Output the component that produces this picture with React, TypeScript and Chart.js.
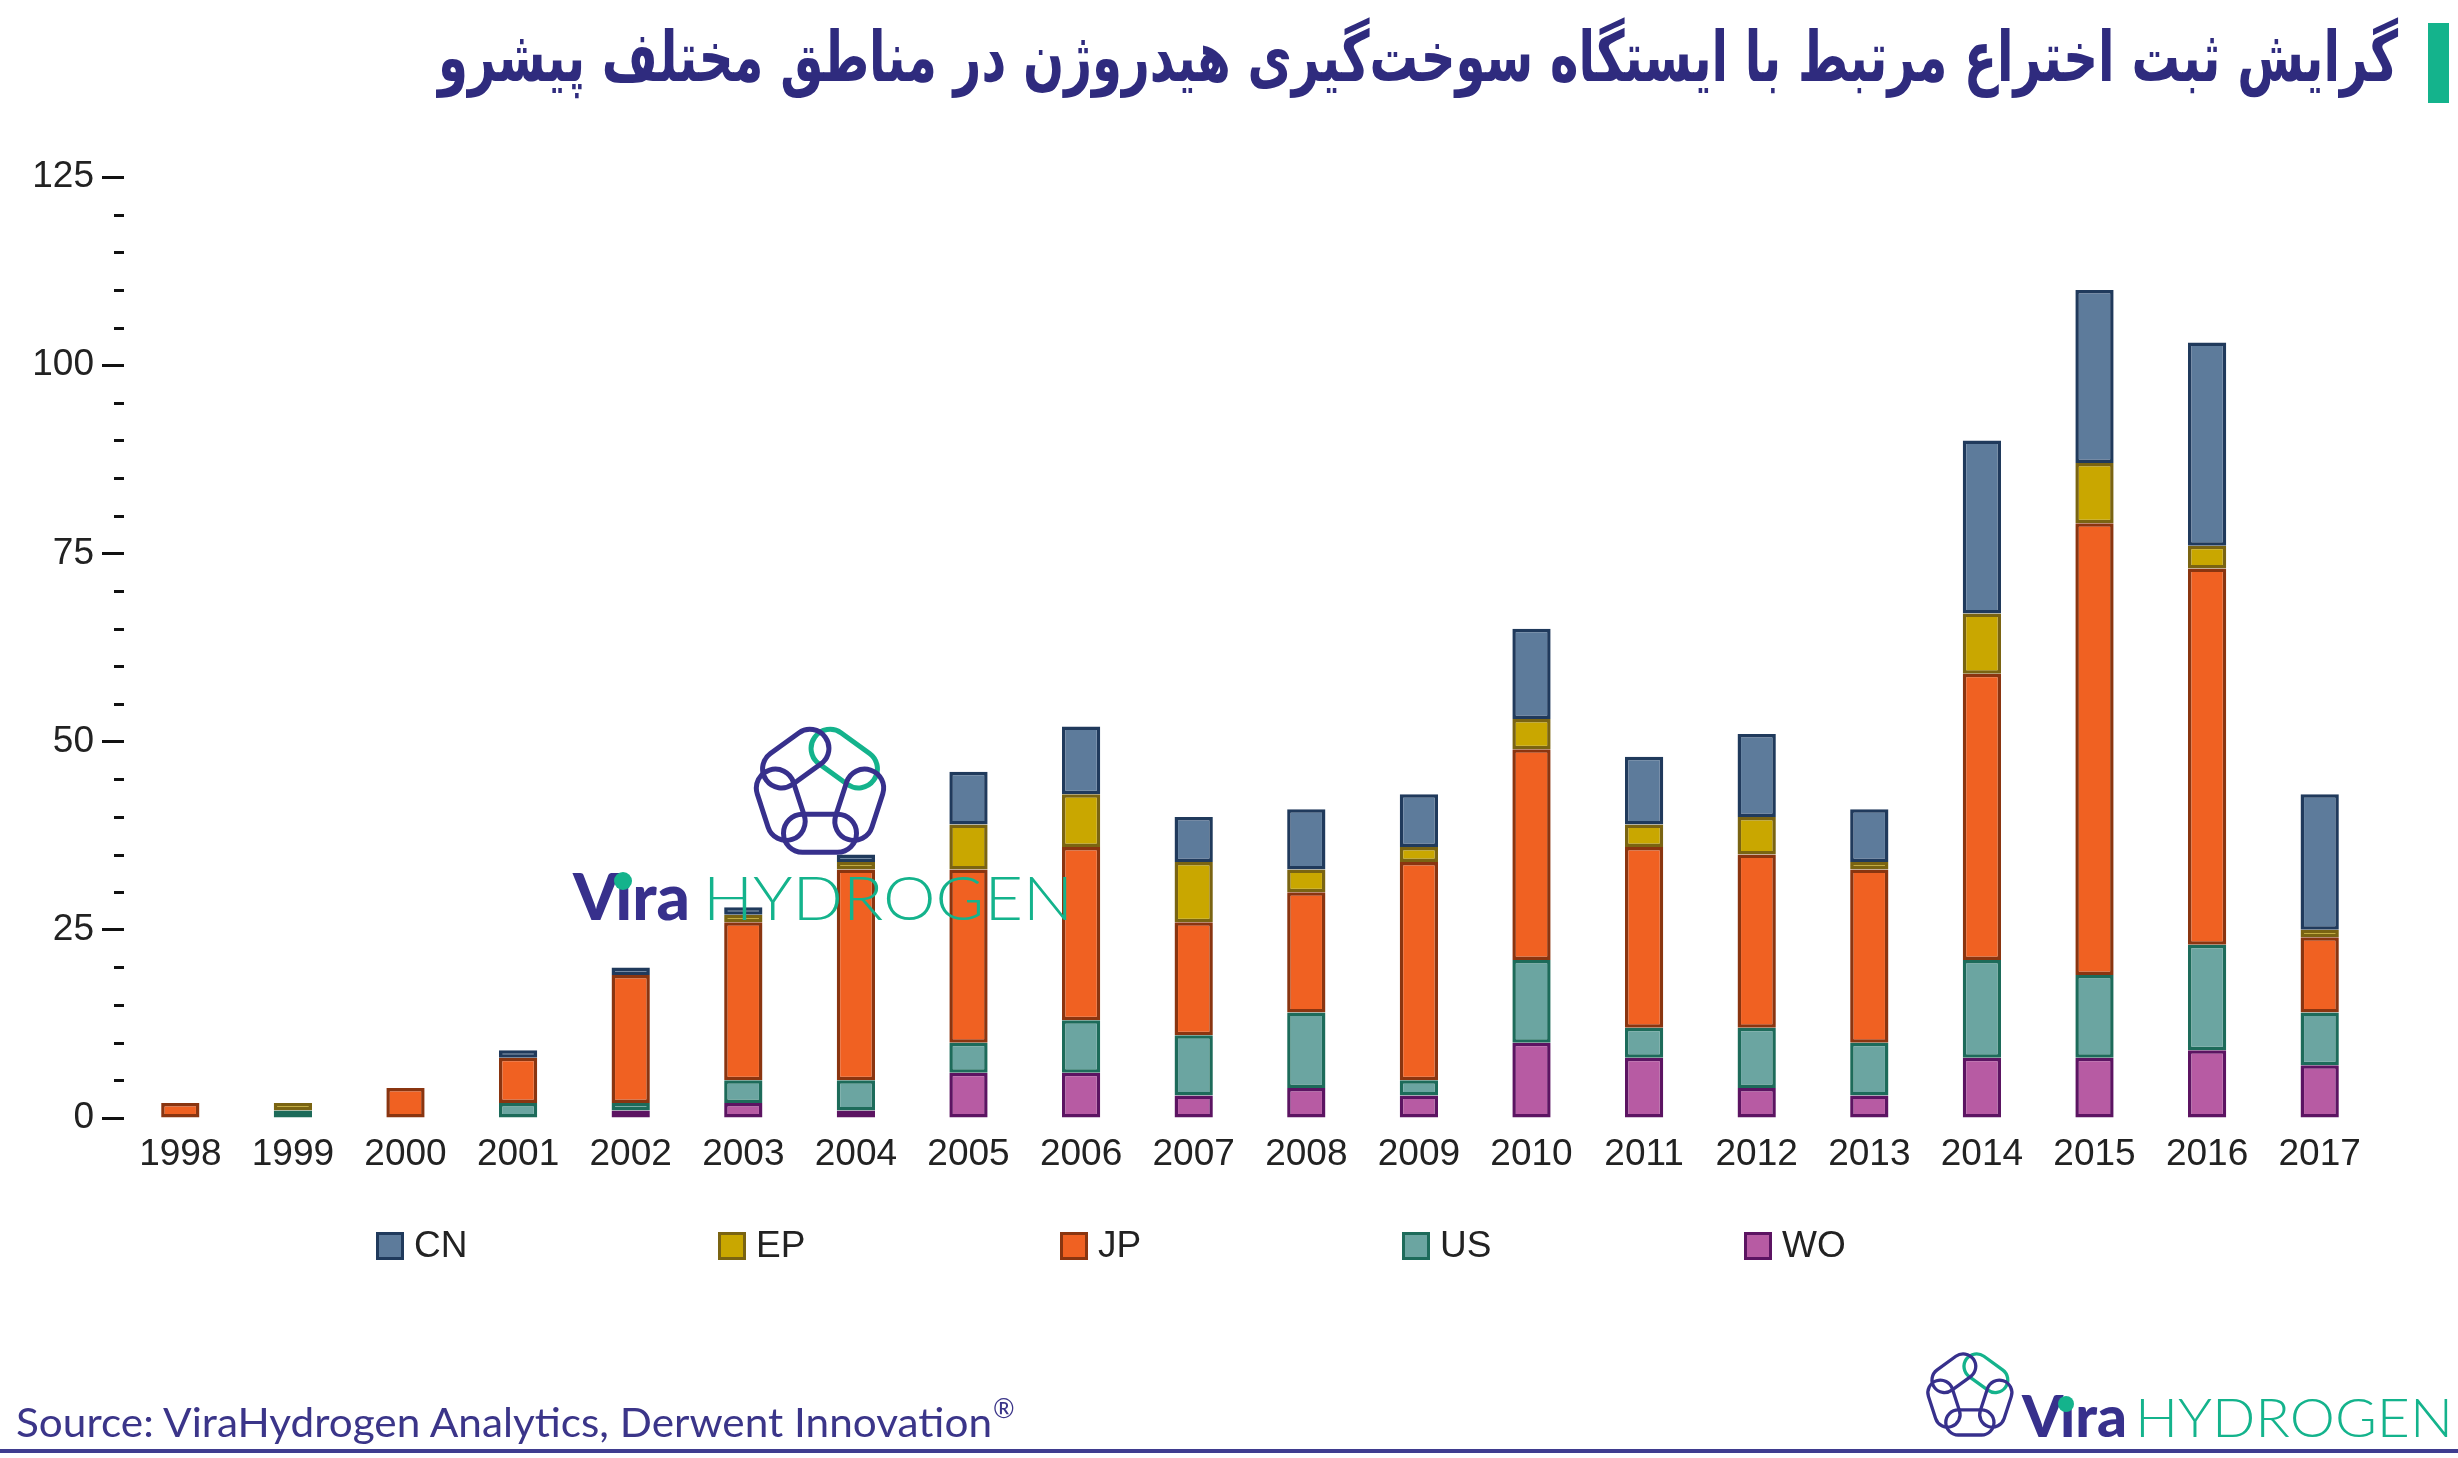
import React, { useEffect, useLayoutEffect, useRef } from "react";
import { Chart, registerables } from "chart.js";

Chart.register(...registerables);

// ---------------- data ----------------
const YEARS = ["1998", "1999", "2000", "2001", "2002", "2003", "2004", "2005", "2006", "2007", "2008", "2009", "2010", "2011", "2012", "2013", "2014", "2015", "2016", "2017"];
const WO = [0, 0, 0, 0, 1, 2, 1, 6, 6, 3, 4, 3, 10, 8, 4, 3, 8, 8, 9, 7];
const US = [0, 1, 0, 2, 1, 3, 4, 4, 7, 8, 10, 2, 11, 4, 8, 7, 13, 11, 14, 7];
const JP = [2, 0, 4, 6, 17, 21, 28, 23, 23, 15, 16, 29, 28, 24, 23, 23, 38, 60, 50, 10];
const EP = [0, 1, 0, 0, 0, 1, 1, 6, 7, 8, 3, 2, 4, 3, 5, 1, 8, 8, 3, 1];
const CN = [0, 0, 0, 1, 1, 1, 1, 7, 9, 6, 8, 7, 12, 9, 11, 7, 23, 23, 27, 18];

const Y_MIN = 0;
const Y_MAX = 125;
const Y_MAJOR_STEP = 25;
const Y_MINOR_STEP = 5;

const TITLE = "گرایش ثبت اختراع مرتبط با ایستگاه سوخت\u200cگیری هیدروژن در مناطق مختلف پیشرو";
const SOURCE = "Source: ViraHydrogen Analytics, Derwent Innovation";

// ---------------- styles ----------------
const INDIGO = "#2f2b7e";
const GREEN = "#14b38c";
const AXIS_FONT = "'Liberation Sans', Arial, sans-serif";

const SERIES = [
  { label: "WO", data: WO, fill: "#b75ba3", edge: "#5c1462" },
  { label: "US", data: US, fill: "#6ba5a1", edge: "#1d6b5a" },
  { label: "JP", data: JP, fill: "#f06122", edge: "#8a3510" },
  { label: "EP", data: EP, fill: "#c9a700", edge: "#7a6412" },
  { label: "CN", data: CN, fill: "#5d7b9b", edge: "#203a5c" },
];

const W = 2458;
const H = 1458;

const minorTicksPlugin = {
  id: "minorTicks",
  afterDraw(chart: any) {
    const y = chart.scales.y;
    const ctx = chart.ctx;
    ctx.save();
    ctx.strokeStyle = "#111";
    ctx.lineWidth = 3;
    for (const t of y.ticks) {
      if (t.value % Y_MAJOR_STEP !== 0) {
        const py = Math.round(y.getPixelForValue(t.value)) + 0.5;
        ctx.beginPath();
        ctx.moveTo(y.right - 10, py);
        ctx.lineTo(y.right, py);
        ctx.stroke();
      }
    }
    ctx.restore();
  },
};

const LEGEND_X0 = 376;
const LEGEND_STEP = 342;
const LEGEND_Y = 1246;
const LEGEND_BOX = 28;

const legendPlugin = {
  id: "customLegend",
  afterDraw(chart: any) {
    const ctx = chart.ctx;
    const ds = chart.data.datasets.slice().reverse();
    ctx.save();
    ds.forEach((d: any, i: number) => {
      const bx = LEGEND_X0 + i * LEGEND_STEP;
      const by = LEGEND_Y - LEGEND_BOX / 2;
      ctx.fillStyle = d.backgroundColor;
      ctx.fillRect(bx, by, LEGEND_BOX, LEGEND_BOX);
      ctx.strokeStyle = d.borderColor;
      ctx.lineWidth = 3;
      ctx.strokeRect(bx + 1.5, by + 1.5, LEGEND_BOX - 3, LEGEND_BOX - 3);
      ctx.fillStyle = "#222";
      ctx.font = `37px ${AXIS_FONT}`;
      ctx.textBaseline = "middle";
      ctx.textAlign = "left";
      ctx.fillText(d.label, bx + LEGEND_BOX + 10, LEGEND_Y + 1);
    });
    ctx.restore();
  },
};

function FitText({ text, width, style, origin }: any) {
  const ref = useRef<HTMLSpanElement>(null);
  useLayoutEffect(() => {
    const el = ref.current;
    if (!el) return;
    el.style.transform = "none";
    const w = el.getBoundingClientRect().width;
    if (w > 0) el.style.transform = `scaleX(${width / w})`;
  }, [text, width]);
  return (
    <span
      ref={ref}
      style={{ ...style, display: "inline-block", whiteSpace: "nowrap", transformOrigin: origin }}
    >
      {text}
    </span>
  );
}

// Pentagon chain logo (base box approx 136 x 132)
function Links({ x, y, s }: { x: number; y: number; s: number }) {
  const R = 51, w = 38, L = 73;
  const cx = 68, cy = 67;
  const verts = [0, 1, 2, 3, 4].map((k) => {
    const a = ((-90 + 72 * k) * Math.PI) / 180;
    return [cx + R * Math.cos(a), cy + R * Math.sin(a)];
  });
  const links = [0, 1, 2, 3, 4].map((k) => {
    const p = verts[k];
    const q = verts[(k + 1) % 5];
    const mx = (p[0] + q[0]) / 2;
    const my = (p[1] + q[1]) / 2;
    const ang = (Math.atan2(q[1] - p[1], q[0] - p[0]) * 180) / Math.PI;
    return (
      <rect
        key={k}
        x={-L / 2}
        y={-w / 2}
        width={L}
        height={w}
        rx={w / 2}
        ry={w / 2}
        fill="none"
        stroke={k === 0 ? GREEN : "#37308c"}
        strokeWidth={5}
        transform={`translate(${mx},${my}) rotate(${ang})`}
      />
    );
  });
  return <g transform={`translate(${x},${y}) scale(${s})`}>{links}</g>;
}

function Brand({ vx, base, vWidth, vSize, hx, hWidth, hSize, dotX, dotR, dotRise }: any) {
  return (
    <g>
      <text
        x={vx}
        y={base}
        textLength={vWidth}
        lengthAdjust="spacingAndGlyphs"
        fill="#37308c"
        style={{ fontFamily: "Lato, 'Open Sans', sans-serif", fontWeight: 900, fontSize: vSize }}
      >
        Vıra
      </text>
      <circle cx={dotX} cy={base - dotRise} r={dotR} fill={GREEN} />
      <text
        x={hx}
        y={base}
        textLength={hWidth}
        lengthAdjust="spacingAndGlyphs"
        fill={GREEN}
        style={{ fontFamily: "Lato, 'Open Sans', sans-serif", fontWeight: 300, fontSize: hSize }}
      >
        HYDROGEN
      </text>
    </g>
  );
}

export default function App() {
  const canvasRef = useRef<HTMLCanvasElement>(null);

  useEffect(() => {
    const canvas = canvasRef.current;
    if (!canvas) return;
    const chart = new Chart(canvas, {
      type: "bar",
      data: {
        labels: YEARS,
        datasets: SERIES.map((s) => ({
          label: s.label,
          data: s.data,
          backgroundColor: s.fill,
          borderColor: s.edge,
          borderWidth: 3.5,
          borderSkipped: false,
          categoryPercentage: 1,
          barPercentage: 0.34,
        })),
      },
      options: {
        responsive: false,
        maintainAspectRatio: false,
        animation: false,
        devicePixelRatio: 1,
        layout: { padding: { top: 177, right: 82, bottom: 280, left: 0 } },
        plugins: {
          legend: { display: false },
          title: { display: false },
          tooltip: { enabled: false },
        },
        scales: {
          x: {
            stacked: true,
            grid: { display: false, drawTicks: false },
            border: { display: false },
            ticks: {
              color: "#222",
              font: { family: AXIS_FONT, size: 37 },
              padding: 15,
              maxRotation: 0,
              autoSkip: false,
            },
            afterFit: (s: any) => {
              s.height = 60;
            },
          },
          y: {
            stacked: true,
            min: Y_MIN,
            max: Y_MAX,
            border: { display: false },
            grid: {
              drawOnChartArea: false,
              drawTicks: true,
              tickLength: 22,
              tickWidth: 3,
              tickColor: (ctx: any) =>
                ctx.tick && ctx.tick.value % Y_MAJOR_STEP === 0 ? "#111" : "rgba(0,0,0,0)",
            },
            ticks: {
              stepSize: Y_MINOR_STEP,
              autoSkip: false,
              padding: 8,
              color: "#222",
              font: { family: AXIS_FONT, size: 37 },
              callback: (v: any) => (Number(v) % Y_MAJOR_STEP === 0 ? String(v) : ""),
            },
            afterFit: (s: any) => {
              s.width = 124;
            },
          },
        },
      } as any,
      plugins: [minorTicksPlugin, legendPlugin],
    });
    return () => chart.destroy();
  }, []);

  return (
    <div
      style={{
        position: "absolute",
        left: 0,
        top: 0,
        width: W,
        height: H,
        background: "#fff",
        overflow: "hidden",
      }}
    >
      <canvas
        ref={canvasRef}
        width={W}
        height={H}
        style={{ position: "absolute", left: 0, top: 0, width: W, height: H, display: "block" }}
      />
      {/* title */}
      <div style={{ position: "absolute", right: 60, top: 22, direction: "rtl" }}>
        <FitText
          text={TITLE}
          width={1960}
          origin="right center"
          style={{
            fontFamily: "'DejaVu Sans', sans-serif",
            fontWeight: "bold",
            fontSize: 70,
            lineHeight: "70px",
            color: INDIGO,
          }}
        />
      </div>
      <div style={{ position: "absolute", left: 2428, top: 23, width: 21, height: 80, background: GREEN }} />
      <svg
        width={W}
        height={H}
        style={{ position: "absolute", left: 0, top: 0, pointerEvents: "none" }}
      >
        {/* watermark */}
        <Links x={752} y={725} s={1} />
        <Brand vx={573} base={920} vWidth={117} vSize={65} hx={703} hWidth={370} hSize={62} dotX={623} dotR={9} dotRise={39} />
        {/* bottom-right logo */}
        <Links x={1925} y={1351} s={0.66} />
        <Brand vx={2022} base={1437} vWidth={105} vSize={58} hx={2135} hWidth={318} hSize={54} dotX={2066} dotR={8} dotRise={33} />
        {/* source */}
        <text
          x={16}
          y={1437}
          textLength={976}
          lengthAdjust="spacingAndGlyphs"
          fill="#3b3589"
          style={{ fontFamily: "Lato, 'Open Sans', sans-serif", fontSize: 40 }}
        >
          {SOURCE}
        </text>
        <text
          x={993}
          y={1418}
          fill="#3b3589"
          style={{ fontFamily: "Lato, 'Open Sans', sans-serif", fontSize: 26 }}
        >
          ®
        </text>
        <rect x={0} y={1449} width={W} height={4} fill="#3f3c8f" />
      </svg>
    </div>
  );
}
